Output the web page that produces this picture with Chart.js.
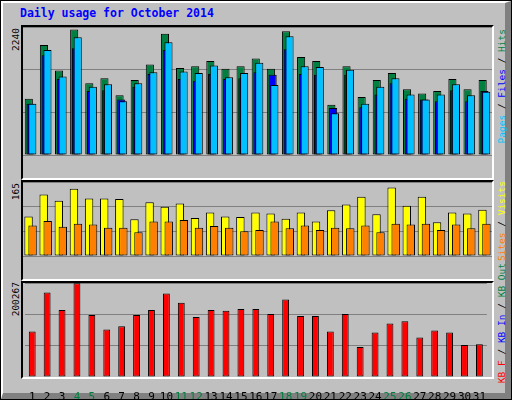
<!DOCTYPE html>
<html>
<head>
<meta charset="utf-8">
<script src="https://cdn.jsdelivr.net/npm/chart.js@4/dist/chart.umd.min.js"></script>
<style>
body { margin: 0; background: #fff; }
#wrap { position: relative; width: 510px; height: 398px; border: 1px solid #000; background: #c0c0c0; overflow: hidden; }
#bevel { position: absolute; left: 0; top: 0; width: 502px; height: 390px; border-left: 2px solid #fff; border-top: 2px solid #fff; border-right: 6px solid #808080; border-bottom: 6px solid #808080; }
.frame { position: absolute; box-sizing: border-box; border-top: 2px solid #000; border-left: 2px solid #000; border-right: 2px solid #fff; border-bottom: 2px solid #fff; pointer-events: none; }
.cv { position: absolute; }
.txt { position: absolute; font-family: "DejaVu Sans Mono", monospace; font-size: 9.5px; white-space: nowrap; line-height: 11px; }
.vert { writing-mode: vertical-rl; transform: rotate(180deg); }
#title { left: 19px; top: 5px; color: #0000ff; font-weight: bold; font-size: 11.5px; line-height: 14px; }
</style>
</head>
<body>
<div id="wrap">
  <div id="bevel"></div>
  <div id="title" class="txt">Daily usage for October 2014</div>
  <div class="txt vert" style="left:9px;top:27px">2240</div>
  <div class="txt vert" style="left:9px;top:182px">165</div>
  <div class="txt vert" style="left:9px;top:281px">200267</div>
  <div class="txt vert" style="left:495px;top:28px"><span style="color:#00c0ff">Pages</span> / <span style="color:#0000ff">Files</span> / <span style="color:#008040">Hits</span></div>
  <div class="txt vert" style="left:495px;top:180px"><span style="color:#ff8000">Sites</span> / <span style="color:#ffff00">Visits</span></div>
  <div class="txt vert" style="left:495px;top:262px"><span style="color:#ff0000">KB F</span> / <span style="color:#0000ff">KB In</span> / <span style="color:#008040">KB Out</span></div>
  <div class="cv" style="left:22px;top:26px;width:469px;height:150px"><canvas id="c1"></canvas></div>
  <div class="cv" style="left:22px;top:181px;width:469px;height:96px"><canvas id="c2"></canvas></div>
  <div class="cv" style="left:22px;top:282px;width:469px;height:116px"><canvas id="c3"></canvas></div>
  <div class="frame" style="left:20px;top:24px;width:473px;height:155px"></div>
  <div class="frame" style="left:20px;top:179px;width:473px;height:101px"></div>
  <div class="frame" style="left:20px;top:280px;width:473px;height:98px"></div>
</div>
<script>
var days = ["1","2","3","4","5","6","7","8","9","10","11","12","13","14","15","16","17","18","19","20","21","22","23","24","25","26","27","28","29","30","31"];
var weekend = ["4","5","11","12","18","19","25","26"];
var hits = [986,1926,1478,2195,1254,1344,1045,1314,1583,2120,1523,1553,1643,1508,1553,1687,1508,2165,1717,1643,881,1553,1015,1314,1433,1150,1075,1120,1329,1150,1314];
var pages = [896,1747,1329,1867,1120,1135,971,1195,1419,1837,1329,1299,1419,1329,1344,1449,1404,1852,1419,1404,821,1404,836,1060,1254,986,971,941,1135,941,1120];
var files = [896,1837,1374,2061,1195,1239,941,1254,1449,1971,1463,1433,1568,1359,1433,1613,1224,2076,1553,1538,732,1493,896,1195,1344,1060,971,1060,1239,1045,1105];
var visits = [88,137,123,150,128,128,127,82,120,110,117,85,97,88,87,97,95,83,97,77,102,115,132,93,153,112,132,75,97,95,103];
var sites = [68,78,65,72,70,63,63,53,77,77,80,63,67,63,55,58,77,62,68,58,63,62,68,53,72,70,72,58,70,62,72];
var kbytes = [96800,180000,143000,200000,132000,101000,108000,132000,143000,178000,158000,128000,143000,141000,145000,145000,134000,165000,130000,130000,97000,134000,64000,95000,114000,119000,84000,99000,95000,68000,70000];
var maxHits = 2240, maxVisits = 165, maxKB = 200267;

// draw datasets first-to-last so later ones sit on top
var drawInOrder = {
    id: 'drawInOrder',
    beforeDatasetsDraw: function (chart) {
        chart.data.datasets.forEach(function (d, i) {
            var m = chart.getDatasetMeta(i);
            if (!m.hidden) m.controller.draw();
        });
        return false;
    }
};

function barSet(data, color, bp) {
    return { data: data, backgroundColor: color, borderColor: "#000", borderWidth: 1, barPercentage: bp, borderSkipped: false };
}

function makeChart(id, datasets, max, cp, showX) {
    return new Chart(document.getElementById(id), {
        type: 'bar',
        data: { labels: days, datasets: datasets },
        plugins: [drawInOrder],
        options: {
            responsive: true,
            maintainAspectRatio: false,
            animation: false,
            layout: { padding: 0 },
            plugins: { legend: { display: false }, tooltip: { enabled: false } },
            datasets: { bar: { categoryPercentage: cp } },
            scales: {
                x: {
                    display: showX,
                    afterFit: function (s) { s.height = 22; },
                    grid: { display: false },
                    border: { display: false },
                    ticks: {
                        font: { family: "DejaVu Sans Mono", size: 11 },
                        color: function (c) { return weekend.indexOf(days[c.index]) >= 0 ? "#008040" : "#000"; },
                        maxRotation: 0, minRotation: 0, autoSkip: false, padding: 6
                    }
                },
                y: {
                    min: 0, max: max,
                    afterFit: function (s) { s.width = 0; },
                    border: { display: false },
                    grid: { color: "#808080", drawTicks: false, lineWidth: 1 },
                    ticks: { display: false, stepSize: max / 3 }
                }
            }
        }
    });
}

makeChart('c1', [barSet(hits, "#008040", 4.6), barSet(pages, "#0000ff", 4.6), barSet(files, "#00c0ff", 4.6)], maxHits, 0.35, false);
makeChart('c2', [barSet(visits, "#ffff00", 2.1), barSet(sites, "#ff8000", 2.1)], maxVisits, 0.53, false);
makeChart('c3', [barSet(kbytes, "#ff0000", 0.46)], maxKB, 1, true);
</script>
</body>
</html>
